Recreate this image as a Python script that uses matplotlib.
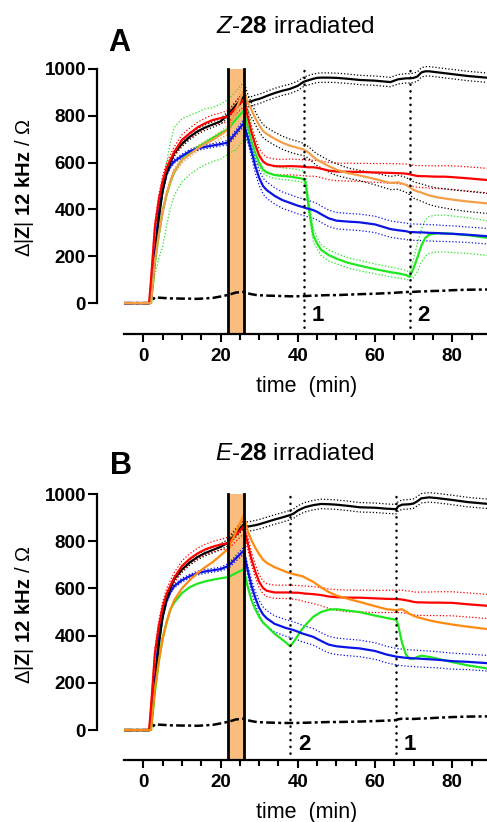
import matplotlib
matplotlib.use('Agg')
import numpy as np
import matplotlib.pyplot as plt

plt.rcParams['font.family'] = ['Liberation Sans', 'DejaVu Sans']
plt.rcParams['mathtext.fontset'] = 'custom'
plt.rcParams['mathtext.rm'] = 'Liberation Sans'
plt.rcParams['mathtext.it'] = 'Liberation Sans:italic'
plt.rcParams['mathtext.bf'] = 'Liberation Sans:bold'

# ---- panel A (Z-28) ----
tA = [-5, 1.5, 2, 3, 4, 5, 6, 7, 8,
      10, 12, 14, 16, 18, 20, 22, 24, 26,
      27, 28, 29, 30, 31, 32, 34, 36, 38, 40,
      41.5, 42, 43, 44, 45, 46, 48, 50, 53, 56,
      60, 64, 66, 68, 69, 70, 71, 72, 73, 74,
      76, 78, 80, 84, 89.5]

A_black = [0, 0, 20, 190, 360, 480, 555, 600, 640,
           680, 710, 733, 750, 763, 776, 805, 845, 882,
           858, 862, 868, 872, 878, 885, 897, 907, 915, 928,
           945, 948, 953, 958, 962, 963, 963, 962, 958, 953,
           950, 944, 956, 960, 960, 962, 968, 985, 990, 990,
           986, 982, 978, 970, 962]
A_red = [0, 0, 100, 325, 440, 520, 575, 612, 645,
         697, 725, 750, 768, 782, 790, 798, 835, 868,
         800, 730, 675, 630, 605, 593, 585, 584, 585, 584,
         582, 581, 580, 580, 578, 574, 566, 562, 561, 560,
         558, 556, 555, 553, 550, 546, 543, 542, 542, 541,
         540, 540, 538, 533, 525]
A_orange = [0, 0, 0, 180, 295, 390, 465, 520, 563,
            610, 635, 660, 680, 697, 718, 742, 825, 910,
            860, 825, 790, 760, 735, 722, 702, 685, 672, 663,
            656, 652, 640, 625, 612, 603, 585, 570, 555, 545,
            530, 513, 516, 505, 495, 483, 477, 472, 466, 460,
            452, 447, 442, 434, 425]
A_green = [0, 0, 0, 170, 290, 390, 460, 515, 560,
           612, 642, 665, 685, 705, 725, 745, 785, 822,
           755, 690, 640, 600, 570, 558, 547, 543, 540, 535,
           530, 515, 390, 290, 255, 228, 205, 190, 172, 160,
           145, 132, 127, 120, 112, 150, 195, 245, 278, 292,
           298, 298, 296, 290, 278]
A_blue = [0, 0, 20, 210, 390, 480, 550, 585, 605,
          628, 648, 660, 667, 673, 679, 686, 728, 768,
          710, 650, 585, 535, 500, 482, 458, 440, 428, 416,
          409, 406, 402, 397, 390, 380, 362, 352, 348, 345,
          336, 316, 311, 307, 303, 303, 302, 302, 301, 300,
          299, 297, 296, 292, 285]
A_base = [0, 0, 5, 25, 23, 22, 21, 20, 20,
          19, 19, 18, 20, 22, 28, 35, 45, 48,
          42, 38, 35, 33, 33, 32, 31, 30, 29, 29,
          30, 30, 31, 32, 32, 33, 34, 34, 36, 38,
          40, 43, 45, 47, 48, 48, 49, 50, 50, 51,
          52, 53, 55, 57, 58]

# SEM offsets, panel A
A_black_err = [0, 0, 5, 10, 10, 10, 10, 10, 10,
               12, 12, 12, 12, 12, 12, 14, 16, 18,
               20, 20, 20, 20, 20, 20, 20, 20, 20, 20,
               20, 20, 20, 20, 20, 20, 20, 20, 20, 20,
               20, 20, 20, 20, 20, 20, 20, 20, 20, 20,
               20, 20, 20, 20, 20]
A_red_hi = [0, 0, 10, 20, 22, 22, 22, 22, 22,
            22, 22, 22, 22, 22, 22, 25, 28, 30,
            30, 30, 30, 30, 30, 30, 30, 30, 30, 30,
            30, 30, 30, 30, 32, 33, 35, 36, 36, 37,
            38, 40, 40, 41, 42, 43, 44, 45, 45, 45,
            46, 47, 48, 49, 50]
A_red_lo = [0, 0, 10, 20, 22, 22, 22, 22, 22,
            22, 22, 22, 22, 22, 22, 25, 28, 30,
            35, 36, 37, 37, 37, 37, 37, 37, 37, 38,
            38, 38, 38, 38, 38, 38, 39, 39, 40, 40,
            42, 44, 45, 46, 47, 48, 48, 49, 49, 50,
            51, 52, 53, 54, 55]
A_orange_err = [0, 0, 0, 10, 10, 10, 10, 12, 12,
                12, 12, 12, 12, 14, 15, 20, 30, 40,
                35, 30, 28, 28, 28, 28, 28, 28, 28, 28,
                26, 25, 25, 25, 25, 25, 25, 25, 22, 22,
                25, 28, 30, 32, 33, 35, 36, 37, 38, 39,
                40, 41, 42, 43, 43]
A_green_hi = [0, 0, 0, 40, 70, 100, 140, 170, 190,
              175, 160, 150, 145, 130, 125, 125, 120, 123,
              80, 60, 45, 40, 35, 35, 35, 35, 35, 35,
              35, 35, 35, 30, 25, 22, 22, 22, 22, 22,
              22, 22, 20, 20, 20, 40, 60, 70, 75, 78,
              78, 78, 76, 75, 72]
A_green_lo = [0, 0, 0, 50, 100, 150, 130, 110, 100,
              95, 93, 93, 93, 100, 110, 108, 130, 125,
              60, 40, 25, 20, 15, 15, 15, 15, 15, 15,
              15, 15, 20, 25, 25, 25, 25, 22, 22, 22,
              20, 20, 20, 18, 15, 40, 60, 70, 78, 80,
              80, 80, 80, 78, 75]
A_blue_err = [0, 0, 5, 8, 8, 8, 8, 8, 8,
              8, 8, 8, 8, 8, 8, 10, 12, 15,
              20, 25, 30, 32, 34, 35, 35, 35, 35, 35,
              35, 35, 35, 35, 35, 35, 35, 35, 35, 35,
              35, 35, 35, 35, 35, 35, 35, 35, 35, 35,
              35, 34, 34, 33, 33]

# ---- panel B (E-28) ----
tB = [-5, 1.5, 2, 3, 4, 5, 6, 7, 8,
      10, 12, 14, 16, 18, 20, 22, 24, 26,
      27, 28, 29, 30, 31, 32, 34, 36, 37, 38,
      39, 40, 41, 42, 44, 46, 48, 50, 53, 56,
      60, 63, 65.5, 66, 67, 68, 69, 70, 71, 72,
      74, 76, 80, 84, 89.5]

B_black = [0, 0, 20, 190, 360, 480, 555, 600, 640,
           680, 710, 733, 750, 763, 776, 795, 835, 872,
           862, 865, 868, 872, 877, 882, 892, 901, 906, 911,
           918, 930, 938, 945, 953, 958, 957, 955, 950, 944,
           942, 938, 936, 948, 955, 956, 957, 960, 970, 982,
           986, 983, 975, 966, 958]
B_red = [0, 0, 100, 325, 440, 520, 575, 612, 645,
         695, 725, 748, 765, 777, 786, 792, 828, 862,
         795, 725, 672, 628, 602, 590, 583, 583, 583, 583,
         582, 582, 580, 578, 576, 572, 566, 563, 561, 561,
         558, 556, 555, 555, 553, 550, 547, 543, 541, 541,
         540, 540, 539, 533, 526]
B_orange = [0, 0, 0, 175, 290, 385, 455, 510, 550,
            600, 635, 665, 690, 712, 740, 768, 840, 911,
            845, 805, 772, 745, 722, 708, 690, 677, 670, 665,
            660, 656, 653, 645, 628, 605, 585, 570, 556, 543,
            525, 512, 508, 510, 512, 502, 492, 484, 478, 474,
            465, 458, 447, 438, 427]
B_green = [0, 0, 0, 160, 290, 390, 455, 510, 540,
           580, 605, 620, 630, 637, 643, 648, 665, 681,
           610, 550, 512, 480, 455, 440, 408, 383, 370, 355,
           375, 400, 425, 445, 480, 500, 510, 512, 506, 500,
           485, 475, 467, 445, 370, 320, 301, 302, 310, 315,
           310, 303, 288, 274, 260]
B_blue = [0, 0, 20, 210, 390, 480, 545, 585, 610,
          635, 652, 665, 672, 677, 682, 695, 728, 760,
          680, 612, 560, 518, 490, 473, 450, 438, 432, 428,
          423, 417, 410, 405, 395, 378, 362, 355, 350, 346,
          335, 320, 311, 310, 308, 306, 305, 304, 303, 302,
          300, 298, 292, 289, 283]
B_base = [0, 0, 5, 25, 23, 22, 21, 20, 20,
          19, 19, 18, 20, 22, 28, 35, 45, 48,
          42, 38, 35, 33, 33, 32, 31, 30, 30, 30,
          30, 30, 31, 31, 32, 33, 34, 34, 35, 36,
          38, 40, 42, 46, 48, 48, 48, 47, 48, 49,
          50, 52, 55, 57, 58]

B_black_err = A_black_err
B_red_hi = [0, 0, 10, 20, 22, 22, 22, 22, 22,
            22, 22, 22, 22, 22, 22, 25, 28, 30,
            30, 30, 30, 30, 30, 30, 31, 31, 31, 31,
            31, 31, 31, 32, 32, 32, 32, 32, 32, 32,
            34, 36, 38, 38, 40, 40, 42, 42, 43, 44,
            45, 46, 47, 48, 48]
B_red_lo = [0, 0, 10, 20, 22, 22, 22, 22, 22,
            22, 22, 22, 22, 22, 22, 25, 28, 30,
            25, 25, 25, 25, 25, 25, 25, 25, 26, 26,
            28, 30, 32, 35, 40, 45, 50, 55, 60, 60,
            60, 58, 57, 57, 56, 56, 55, 55, 55, 55,
            55, 55, 55, 54, 54]
B_blue_err = [0, 0, 5, 8, 8, 8, 8, 8, 8,
              8, 8, 8, 8, 8, 8, 10, 12, 15,
              20, 25, 28, 30, 32, 33, 34, 35, 35, 35,
              35, 35, 35, 35, 35, 35, 35, 35, 35, 35,
              35, 35, 35, 35, 35, 35, 35, 35, 35, 35,
              35, 34, 34, 33, 33]

irr = [22, 26]                  # irradiation window (min)
events_A = [41.5, 69]
labels_A = ['1', '2']
events_B = [38, 65.5]
labels_B = ['2', '1']

RED = '#FF0000'
GREEN = '#1EE81E'
BLUE = '#0A14E6'
ORANGE_A = '#F59E48'
ORANGE_B = '#FF8A10'
BAR = '#F9BE7E'
dot = (0, (1, 1.6))
dashdot = (0, (3.5, 1.3, 1.2, 1.3))
LW = 1.6


def band(ax, t, y, hi, lo, color, mask=None):
    t = np.array(t)
    y = np.array(y, dtype=float)
    up = y + np.array(hi)
    dn = y - np.array(lo)
    if mask is not None:
        t, up, dn = t[mask], up[mask], dn[mask]
    ax.plot(t, up, color=color, lw=0.9, ls=dot, zorder=2)
    ax.plot(t, dn, color=color, lw=0.9, ls=dot, zorder=2)


def setup(ax, ybot, events, labels, ytxt):
    ax.set_xlim(-5, 89)
    ax.set_ylim(ybot, 1020)
    top = (1000 - ybot) / (1020 - ybot)
    top_ev = (1005 - ybot) / (1020 - ybot)
    ax.axvspan(irr[0], irr[1], ymin=0, ymax=top, color=BAR, lw=0, zorder=1)
    for x in irr:
        ax.axvline(x, ymin=0, ymax=top, color='k', lw=2.0, zorder=6)
    for x, lab in zip(events, labels):
        ax.axvline(x, ymin=0, ymax=top_ev, color='k', lw=1.8,
                   ls=(0, (0.1, 2.6)), dash_capstyle='round', zorder=7)
        ax.text(x + 3.6, ytxt, lab, fontsize=16, fontweight='bold',
                ha='center', va='center')
    for s in ['top', 'right']:
        ax.spines[s].set_visible(False)
    ax.spines['left'].set_position(('outward', 19.4))
    ax.spines['left'].set_bounds(0, 1000)
    ax.spines['left'].set_linewidth(1.6)
    ax.spines['bottom'].set_linewidth(1.6)
    ax.set_yticks([0, 200, 400, 600, 800, 1000])
    ax.set_xticks([0, 20, 40, 60, 80])
    ax.set_xticks(np.arange(5, 90, 5), minor=True)
    ax.tick_params(axis='y', length=6.5, width=1.5, pad=1.5)
    ax.tick_params(axis='x', which='major', length=6, width=1.5, pad=4)
    ax.tick_params(axis='x', which='minor', length=4.5, width=1.5)
    plt.setp(ax.get_yticklabels(), fontsize=13.5, fontweight='bold')
    plt.setp(ax.get_xticklabels(), fontsize=13.5, fontweight='bold')


fig = plt.figure(figsize=(4.87, 8.22), dpi=100)
axA = fig.add_axes([124 / 487, 0.5937, 363 / 487, 0.3281])
axB = fig.add_axes([124 / 487, 0.0754, 363 / 487, 0.3293])

# panel A
setup(axA, -132, events_A, labels_A, -52)
tAa = np.array(tA)
band(axA, tA, A_black, A_black_err, A_black_err, 'k')
band(axA, tA, A_red, A_red_hi, A_red_lo, RED)
band(axA, tA, A_orange, A_orange_err, A_orange_err, ORANGE_A, tAa <= 26)
band(axA, tA, A_orange, A_orange_err, A_orange_err, 'k', tAa >= 26)
band(axA, tA, A_green, A_green_hi, A_green_lo, GREEN)
band(axA, tA, A_blue, A_blue_err, A_blue_err, BLUE)
axA.plot(tA, A_base, color='k', lw=1.8, ls=dashdot, zorder=3)
axA.plot(tA, A_green, color=GREEN, lw=LW, zorder=4)
axA.plot(tA, A_blue, color=BLUE, lw=LW, zorder=4)
axA.plot(tA, A_black, color='k', lw=LW, zorder=4)
axA.plot(tA, A_red, color=RED, lw=LW, zorder=5)
axA.plot(tA, A_orange, color=ORANGE_A, lw=LW, zorder=5)

# panel B
setup(axB, -127, events_B, labels_B, -61)
band(axB, tB, B_black, B_black_err, B_black_err, 'k')
band(axB, tB, B_red, B_red_hi, B_red_lo, RED)
band(axB, tB, B_blue, B_blue_err, B_blue_err, BLUE)
axB.plot(tB, B_base, color='k', lw=1.8, ls=dashdot, zorder=3)
axB.plot(tB, B_green, color=GREEN, lw=LW, zorder=4)
axB.plot(tB, B_blue, color=BLUE, lw=LW, zorder=4)
axB.plot(tB, B_black, color='k', lw=LW, zorder=4)
axB.plot(tB, B_red, color=RED, lw=LW, zorder=5)
axB.plot(tB, B_orange, color=ORANGE_B, lw=LW, zorder=5)

# titles, panel letters and axis labels
fig.text(295 / 487, 1 - 27 / 822, r'$\mathit{Z}$-$\mathbf{28}$ irradiated',
         fontsize=17.5, ha='center', va='center')
fig.text(295 / 487, 1 - 454 / 822, r'$\mathit{E}$-$\mathbf{28}$ irradiated',
         fontsize=17.5, ha='center', va='center')
fig.text(108 / 487, 1 - 43 / 822, 'A', fontsize=22, fontweight='bold',
         ha='left', va='center')
fig.text(110 / 487, 1 - 466 / 822, 'B', fontsize=22, fontweight='bold',
         ha='left', va='center')
ylab = r'Δ|$\mathbf{Z}$| $\mathbf{12\ kHz}$ / Ω'
fig.text(25 / 487, 1 - 188 / 822, ylab, fontsize=14.5, rotation=90,
         ha='center', va='center')
fig.text(25 / 487, 1 - 615 / 822, ylab, fontsize=14.5, rotation=90,
         ha='center', va='center')
fig.text(307 / 487, 1 - 386 / 822, 'time  (min)', fontsize=15.5,
         ha='center', va='center')
fig.text(307 / 487, 1 - 812 / 822, 'time  (min)', fontsize=15.5,
         ha='center', va='center')

fig.savefig('out.png', dpi=100)
